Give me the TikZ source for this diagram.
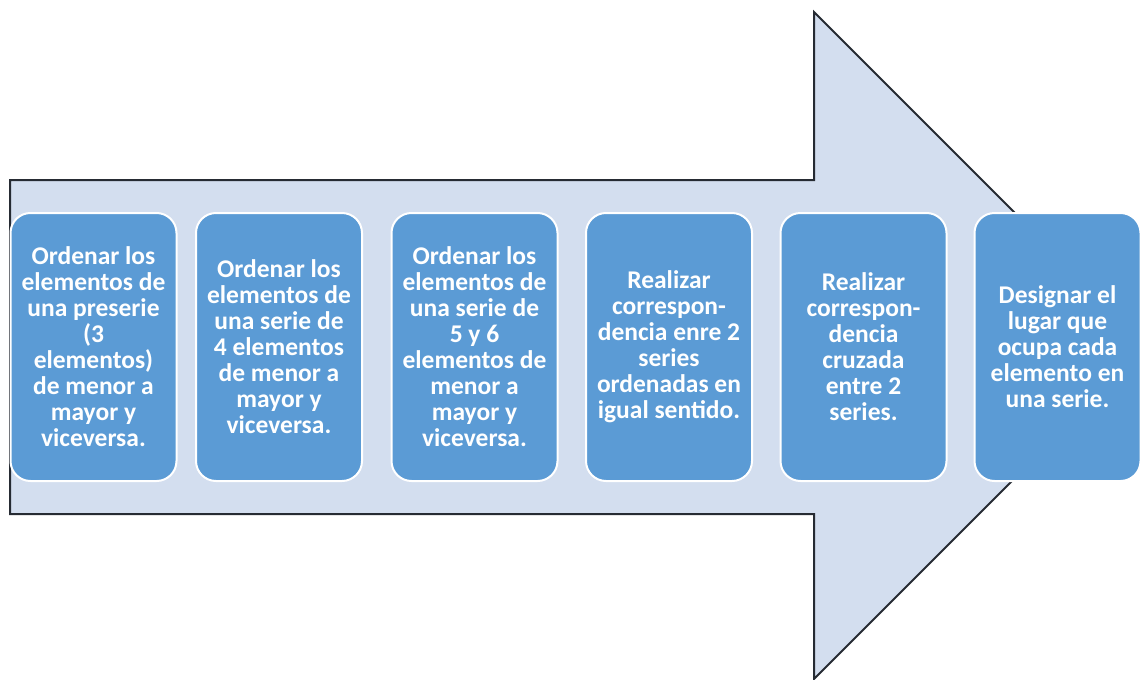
\documentclass[tikz,border=0pt]{standalone}
\usepackage{fontspec}
\setmainfont{Carlito}
\definecolor{arrowfill}{HTML}{D3DEEF}
\definecolor{arrowline}{HTML}{262B33}
\definecolor{boxfill}{HTML}{5B9BD5}
\tikzset{
  stepbox/.style={rectangle, rounded corners=20pt, draw=white, line width=2pt,
    fill=boxfill, text=white, minimum width=166pt, minimum height=268pt,
    inner sep=2pt, align=center,
    font=\fontsize{25.5}{26}\selectfont\bfseries},
  bigarrow/.style={fill=arrowfill, draw=arrowline, line width=2pt, line join=miter}
}
\begin{document}
\begin{tikzpicture}[x=1pt,y=-1pt]
\useasboundingbox (0,0) rectangle (1141,680);
\clip (0,0) rectangle (1141,680);
\draw[bigarrow] (10,180) -- (814,180) -- (814,12) -- (1147.5,345.5) -- (814,679) -- (814,514) -- (10,514) -- cycle;
\node[stepbox] (b1) at (93.5,347) {Ordenar los\\elementos de\\una preserie\\(3\\elementos)\\de menor a\\mayor y\\viceversa.};
\node[stepbox] (b2) at (279,347) {Ordenar los\\elementos de\\una serie de\\4 elementos\\de menor a\\mayor y\\viceversa.};
\node[stepbox] (b3) at (474.5,347) {Ordenar los\\elementos de\\una serie de\\5 y 6\\elementos de\\menor a\\mayor y\\viceversa.};
\node[stepbox] (b4) at (669,347) {Realizar\\correspon-\\dencia enre 2\\series\\ordenadas en\\igual sentido.};
\node[stepbox] (b5) at (863.5,347) {Realizar\\correspon-\\dencia\\cruzada\\entre 2\\series.};
\node[stepbox] (b6) at (1057.5,347) {Designar el\\lugar que\\ocupa cada\\elemento en\\una serie.};
\end{tikzpicture}
\end{document}
